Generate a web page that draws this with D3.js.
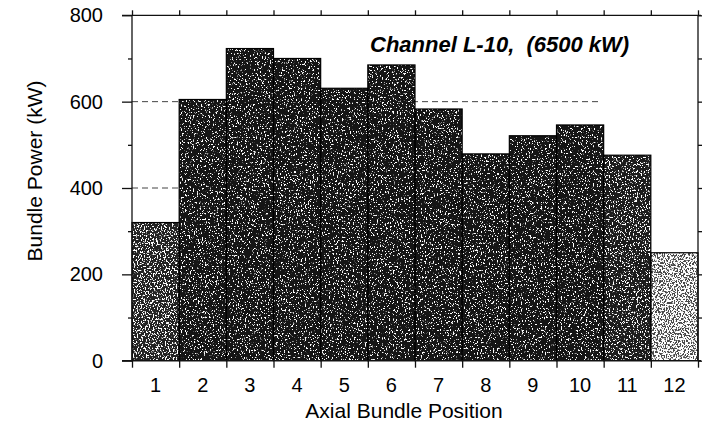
<!DOCTYPE html>
<html>
<head>
<meta charset="utf-8">
<script src="https://cdn.jsdelivr.net/npm/d3@7"></script>
<style>
  html, body { margin: 0; padding: 0; background: #fff; }
  svg { display: block; font-family: "Liberation Sans", Arial, Helvetica, sans-serif; }
  .axis path, .axis line { stroke: #111; stroke-width: 1.3; }
  .axis text { fill: #000; font-size: 20px; }
</style>
</head>
<body>
<svg id="chart" width="703" height="422"></svg>
<script>
// Axial power profile of channel L-10
const positions = [1, 2, 3, 4, 5, 6, 7, 8, 9, 10, 11, 12];
const bundlePower = [320, 605, 723, 700, 631, 685, 583, 479, 521, 546, 476, 250];
const powerTicks = [0, 200, 400, 600, 800];
const minorPowerTicks = [100, 300, 500, 700];
const gridValues = [400, 600];
const chartTitle = "Channel L-10,  (6500 kW)";
const xTitle = "Axial Bundle Position";
const yTitle = "Bundle Power (kW)";

const W = 703, H = 422;
const margin = { top: 15.3, right: 5, bottom: 61.3, left: 132 };
const plotW = W - margin.left - margin.right;
const plotH = H - margin.top - margin.bottom;

const svg = d3.select("#chart");
const g = svg.append("g").attr("transform", `translate(${margin.left},${margin.top})`);

const x = d3.scaleBand().domain(positions).range([0, plotW]).padding(0);
const xEdge = d3.scaleLinear().domain([0, positions.length]).range([0, plotW]);
const y = d3.scaleLinear().domain([0, 800]).range([plotH, 0]);

// Stippled fills: white grain laid over a dark base, denser on the end bundles
const tones = {
  dark:  { base: "#151515", cut: 0.60 },
  edge:  { base: "#1c1c1c", cut: 0.575 },
  mid:   { base: "#222222", cut: 0.545 },
  light: { base: "#4a4a4a", cut: 0.445 }
};
const toneOf = p => p === 12 ? "light" : p === 1 ? "mid" : p === 11 ? "edge" : "dark";
const defs = svg.append("defs");
Object.entries(tones).forEach(([name, t]) => {
  const f = defs.append("filter").attr("id", "grain-" + name)
    .attr("x", 0).attr("y", 0).attr("width", 1).attr("height", 1)
    .attr("color-interpolation-filters", "sRGB");
  f.append("feTurbulence").attr("type", "fractalNoise")
    .attr("baseFrequency", "0.75 0.55").attr("numOctaves", 2).attr("seed", 7).attr("result", "noise");
  f.append("feColorMatrix").attr("in", "noise").attr("type", "matrix")
    .attr("values", `0 0 0 0 1  0 0 0 0 1  0 0 0 0 1  14 0 0 0 ${-14 * t.cut}`)
    .attr("result", "specks");
  f.append("feComposite").attr("in", "specks").attr("in2", "SourceGraphic")
    .attr("operator", "in").attr("result", "clipped");
  const m = f.append("feMerge");
  m.append("feMergeNode").attr("in", "SourceGraphic");
  m.append("feMergeNode").attr("in", "clipped");
});

// Dashed reference lines behind the bars
g.selectAll(".grid").data(gridValues).join("line")
  .attr("class", "grid")
  .attr("x1", 0).attr("x2", xEdge(11) - 50)
  .attr("y1", d => y(d)).attr("y2", d => y(d))
  .attr("stroke", "#444").attr("stroke-width", 1)
  .attr("stroke-dasharray", "6 4");

const data = positions.map((p, i) => ({ p, v: bundlePower[i] }));

g.selectAll(".bar").data(data).join("rect")
  .attr("class", "bar")
  .attr("x", d => x(d.p))
  .attr("y", d => y(d.v))
  .attr("width", x.bandwidth())
  .attr("height", d => plotH - y(d.v))
  .attr("fill", d => tones[toneOf(d.p)].base)
  .attr("filter", d => `url(#grain-${toneOf(d.p)})`);

g.selectAll(".bar-edge").data(data).join("rect")
  .attr("class", "bar-edge")
  .attr("x", d => x(d.p))
  .attr("y", d => y(d.v))
  .attr("width", x.bandwidth())
  .attr("height", d => plotH - y(d.v))
  .attr("fill", "none").attr("stroke", "#000").attr("stroke-width", 1.2);

// Axes
const edgeTicks = d3.range(0, positions.length + 1);

g.append("g").attr("class", "axis")
  .call(d3.axisLeft(y).tickValues(powerTicks).tickSize(10).tickSizeOuter(0).tickPadding(19))
  .call(a => a.select(".domain").remove());
g.append("g").attr("class", "axis")
  .call(d3.axisLeft(y).tickValues(minorPowerTicks).tickSize(4).tickFormat(""))
  .call(a => a.select(".domain").attr("d", `M0,${plotH}V0`));

g.append("g").attr("class", "axis").attr("transform", `translate(${plotW},0)`)
  .call(d3.axisRight(y).tickValues(d3.range(0, 801, 100)).tickSize(4).tickFormat(""))
  .call(a => a.select(".domain").attr("d", `M0,${plotH}V0`));

g.append("g").attr("class", "axis").attr("transform", `translate(0,${plotH})`)
  .call(d3.axisBottom(xEdge).tickValues(edgeTicks).tickSize(7).tickFormat(""))
  .call(a => a.select(".domain").attr("d", `M-10,0H${plotW + 3}`));
g.append("g").attr("class", "axis").attr("transform", `translate(0,${plotH})`)
  .call(d3.axisBottom(x).tickSize(0).tickPadding(17))
  .call(a => a.select(".domain").remove());

g.append("g").attr("class", "axis")
  .call(d3.axisTop(xEdge).tickValues(edgeTicks).tickSize(5).tickFormat(""))
  .call(a => a.select(".domain").attr("d", `M-10,0H${plotW + 3}`));

// Titles
svg.append("text")
  .attr("x", 370).attr("y", 52)
  .attr("font-size", 22).attr("font-weight", "bold").attr("font-style", "italic")
  .style("white-space", "pre").attr("fill", "#000")
  .text(chartTitle);

svg.append("text")
  .attr("x", 404).attr("y", 418).attr("text-anchor", "middle")
  .attr("font-size", 21).attr("fill", "#000")
  .text(xTitle);

svg.append("text")
  .attr("transform", "translate(41.5,171) rotate(-90)")
  .attr("text-anchor", "middle")
  .attr("font-size", 21).attr("fill", "#000")
  .text(yTitle);
</script>
</body>
</html>
